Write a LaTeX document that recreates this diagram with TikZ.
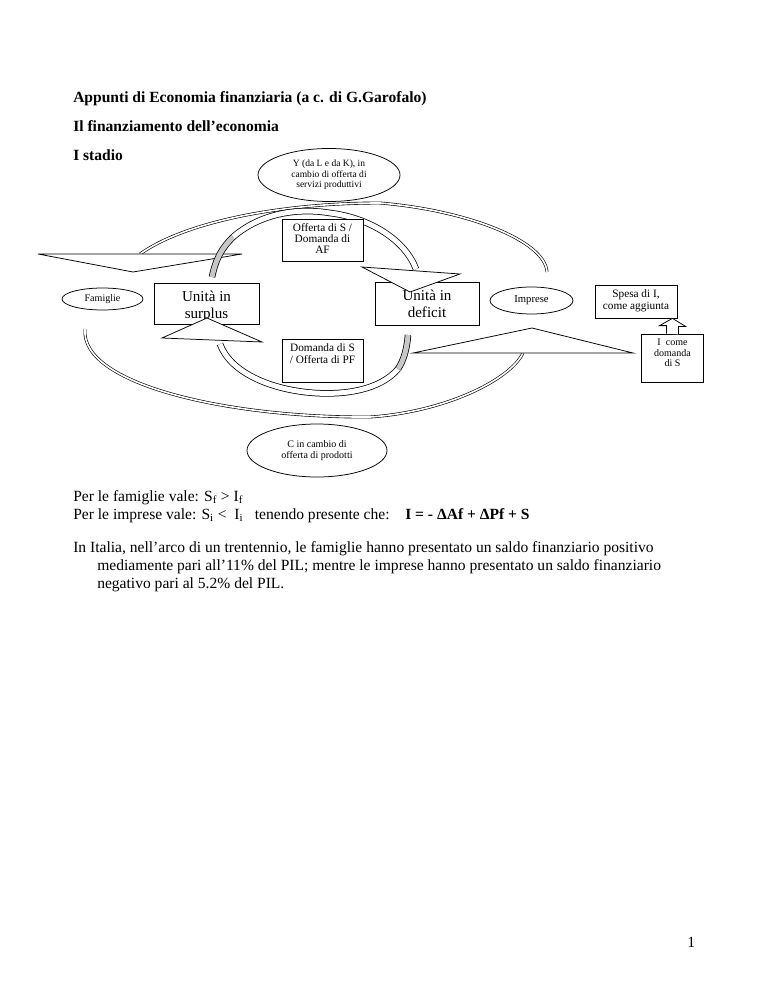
\documentclass[tikz,border=0pt]{standalone}
\usepackage{fontspec}
\setmainfont{Liberation Serif}
\usetikzlibrary{shapes.geometric,positioning}
\newlength\unitpx
\setlength\unitpx{0.796875pt}
\tikzset{
  wordbox/.style={draw, line width=0.6pt, fill=white, inner sep=0pt},
  wordoval/.style={ellipse, draw, line width=0.6pt, fill=white, inner sep=0pt,
    align=center, font=\fontsize{8}{9.2}\selectfont},
  boxtext/.style={inner sep=0pt, align=center, font=\fontsize{9}{9}\selectfont},
  smalltext/.style={inner sep=0pt, align=center, font=\fontsize{8}{8.4}\selectfont},
  bigtext/.style={inner sep=0pt, align=center, font=\fontsize{12}{13.6}\selectfont},
  pagetext/.style={inner sep=0pt, anchor=base west, font=\fontsize{12.4}{14.3}\selectfont},
  headtext/.style={pagetext, font=\fontsize{12.4}{14.3}\selectfont\bfseries},
  band/.style={line width=0.6pt, double=white, double distance=5\unitpx},
  grayband/.style={band, double=black!22},
  thinband/.style={line width=0.5pt, double=white, double distance=1.3pt},
  headshape/.style={draw, line width=0.6pt, fill=white, line join=miter},
}
\begin{document}
\begin{tikzpicture}[x=\unitpx, y=-\unitpx]
\useasboundingbox (0,0) rectangle (768,994);
% page heading
\node[headtext] (titolo) at (73,103) {Appunti di Economia finanziaria (a c. di G.Garofalo)};
\node[headtext] (sottotitolo) at (73,132) {Il finanziamento dell'economia};
\node[headtext] (stadio) at (73,161) {I stadio};

% outer circuit: Y towards the families, C towards the firms
\draw[thinband] (140,254) .. controls (185,222) and (280,203) .. (380,203)
  .. controls (465,210) and (545,240) .. (547,272);
\draw[thinband] (85,329) .. controls (80,385) and (230,418) .. (370,417)
  .. controls (445,412) and (510,380) .. (523,353);
\draw[headshape] (38,254) -- (242,254) -- (133,272) -- cycle;
\draw[headshape] (413,353) -- (633,353) -- (532,328) -- cycle;

% inner circuit between surplus and deficit units
\draw[grayband] (212,277) .. controls (216,258) and (222,248) .. (233,237);
\draw[band] (233,237) .. controls (262,212) and (300,208) .. (330,213)
  .. controls (370,218) and (405,240) .. (416,269);
\draw[grayband] (408,335) .. controls (407,348) and (404,360) .. (398,369);
\draw[band] (398,369) .. controls (380,390) and (345,395) .. (315,393)
  .. controls (270,390) and (230,372) .. (220,344);

% boxes and ovals
\node[wordoval, minimum width=142\unitpx, minimum height=53\unitpx,
  font=\fontsize{7.6}{8.5}\selectfont] (reddito) at (329,175)
  {Y (da L e da K), in\\cambio di offerta di\\servizi produttivi};
\node[wordoval, minimum width=81\unitpx, minimum height=22\unitpx] (famiglie)
  at (102.5,299) {Famiglie};
\node[wordbox, minimum width=105\unitpx, minimum height=41\unitpx] (surplus)
  at (206.5,303.5) {};
\node[bigtext, below=6.5pt of surplus.north] (surplustxt) {Unità in\\surplus};
\node[wordbox, minimum width=81\unitpx, minimum height=42\unitpx] (offerta)
  at (322.5,240) {};
\node[boxtext, below=3.6pt of offerta.north] (offertatxt)
  {Offerta di S /\\Domanda di\\AF};
\node[wordbox, minimum width=104\unitpx, minimum height=43\unitpx] (deficit)
  at (427,303.5) {};
\node[bigtext, below=6.5pt of deficit.north] (deficittxt) {Unità in\\deficit};
\node[wordoval, minimum width=83\unitpx, minimum height=27\unitpx,
  font=\fontsize{8.5}{9.5}\selectfont] (imprese) at (531.5,300.5) {Imprese};
\node[wordbox, minimum width=82\unitpx, minimum height=33\unitpx] (spesa)
  at (636,301.5) {};
\node[boxtext, below=4pt of spesa.north, font=\fontsize{9}{9.6}\selectfont]
  (spesatxt) {Spesa di I,\\come aggiunta};
\node[wordbox, minimum width=62\unitpx, minimum height=48\unitpx] (domandaI)
  at (672.5,358) {};
\node[smalltext, below=4pt of domandaI.north] (domandaItxt)
  {I~ come\\domanda\\di S};
\node[wordbox, minimum width=81\unitpx, minimum height=43\unitpx] (domanda)
  at (322.5,360.5) {};
\node[boxtext, below=3.8pt of domanda.north, font=\fontsize{9}{9.6}\selectfont]
  (domandatxt) {Domanda di S\\/ Offerta di PF};
\node[wordoval, minimum width=140\unitpx, minimum height=53\unitpx] (consumi)
  at (317,450.5) {C in cambio di\\offerta di prodotti};

% block arrow I -> spesa, and the inner arrow heads on top of the boxes
\draw[headshape] ([xshift=-6\unitpx]domandaI.north) -- ++(0,-8) -- ++(-7,0)
  -- (domandaI.north |- spesa.south) -- ++(13,8) -- ++(-7,0) -- ++(0,8);
\draw[headshape] (362,267) -- (460,274) -- (410,292) -- cycle;
\draw[headshape] (162,338) -- (262,342) -- (207,318) -- cycle;

% text below the diagram
\node[pagetext] (famiglievale) at (73,501)
  {Per le famiglie vale: S\textsubscript{f} > I\textsubscript{f}};
\node[pagetext] (impresevale) at (73,519)
  {Per le imprese vale: S\textsubscript{i} <\ \ I\textsubscript{i}\ \ \ tenendo presente che:};
\node[headtext] (identita) at (405,519) {I = - ΔAf + ΔPf + S};
\node[pagetext] (italiaA) at (73,552)
  {In Italia, nell'arco di un trentennio, le famiglie hanno presentato un saldo finanziario positivo};
\node[pagetext] (italiaB) at (97,570)
  {mediamente pari all'11\% del PIL; mentre le imprese hanno presentato un saldo finanziario};
\node[pagetext] (italiaC) at (97,588) {negativo pari al 5.2\% del PIL.};
\node[pagetext] (pagina) at (687,947) {1};
\end{tikzpicture}
\end{document}
